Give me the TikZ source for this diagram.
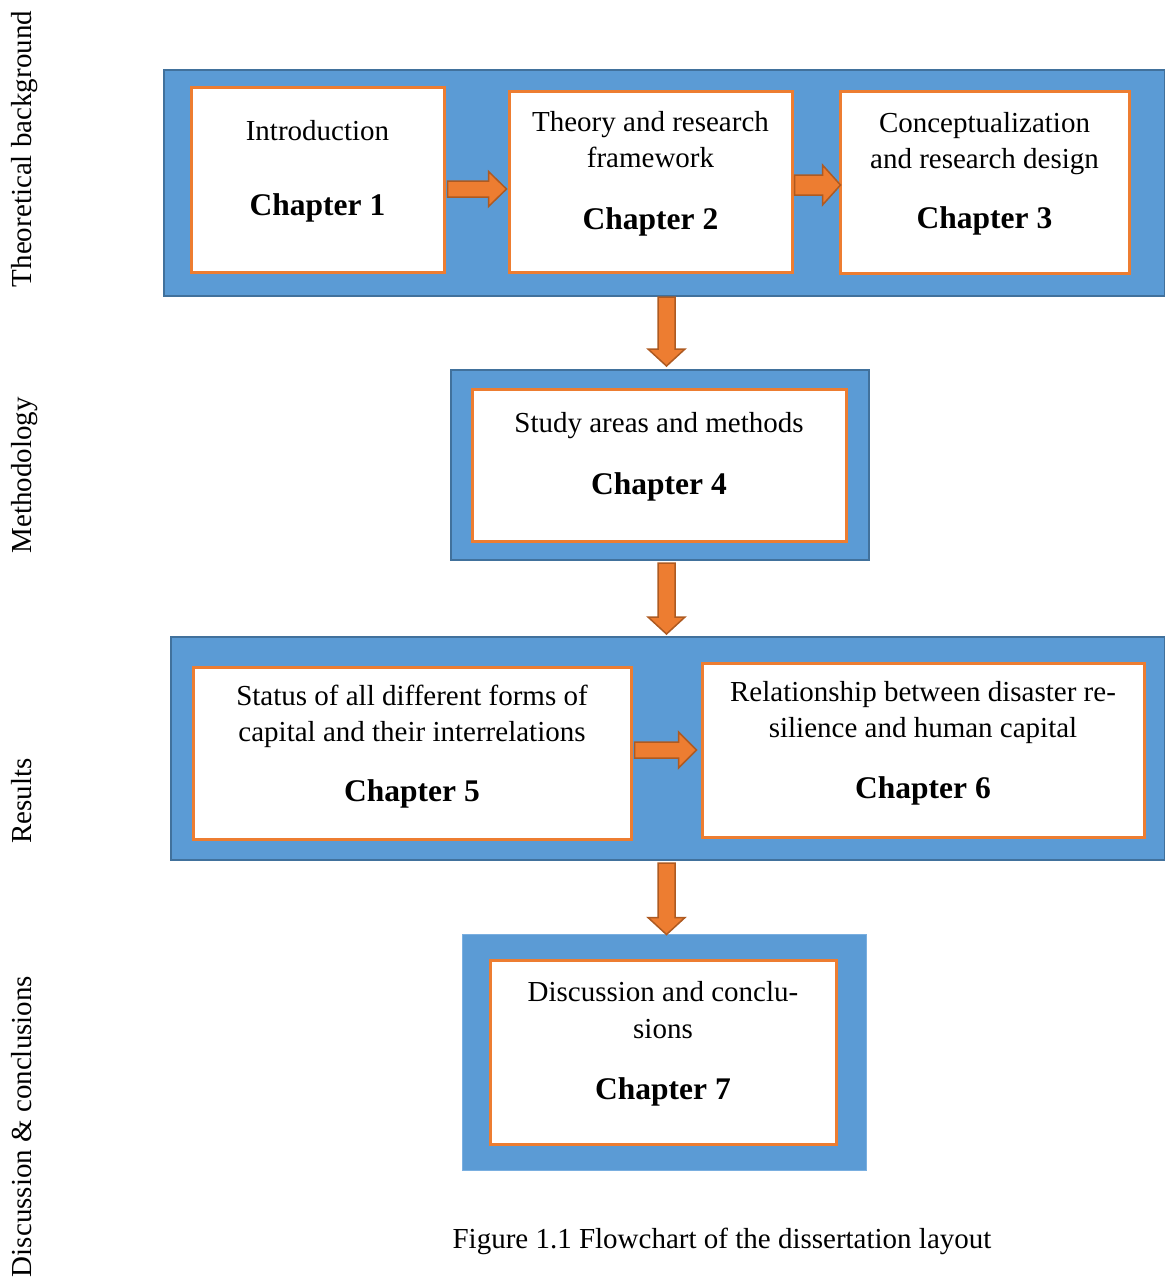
\documentclass[tikz,border=0pt]{standalone}
\usepackage{fontspec}
\setmainfont{Liberation Serif}
\usetikzlibrary{calc}
\definecolor{bluefill}{HTML}{5B9BD5}
\definecolor{blueline}{HTML}{41719C}
\definecolor{bluelight}{HTML}{7AAFE0}
\definecolor{orng}{HTML}{ED7D31}
\definecolor{orngdark}{HTML}{AE5A21}
\newcommand\harr[5]{\draw[barrow] ($(#1)+(0,-#3)$) -- ($(#2)+(-#5,-#3)$) -- ($(#2)+(-#5,-#4)$) -- (#2) -- ($(#2)+(-#5,#4)$) -- ($(#2)+(-#5,#3)$) -- ($(#1)+(0,#3)$) -- cycle;}
\newcommand\varr[5]{\draw[barrow] ($(#1)+(-#3,0)$) -- ($(#2)+(-#3,-#5)$) -- ($(#2)+(-#4,-#5)$) -- (#2) -- ($(#2)+(#4,-#5)$) -- ($(#2)+(#3,-#5)$) -- ($(#1)+(#3,0)$) -- cycle;}
\tikzset{
  bgbox/.style={draw=blueline, fill=bluefill, line width=2pt, inner sep=0pt},
  bgboxl/.style={draw=bluelight, fill=bluefill, line width=1pt, inner sep=0pt},
  chbox/.style={draw=orng, fill=white, line width=3pt, inner sep=0pt},
  barrow/.style={fill=orng, draw=orngdark, line width=1.5pt, line join=miter},
  txt/.style={font=\fontsize{29}{36}\selectfont, anchor=base, inner sep=0pt},
  chap/.style={font=\fontsize{31.5}{36}\selectfont\bfseries, anchor=base, inner sep=0pt},
  side/.style={font=\fontsize{29}{36}\selectfont, anchor=base, inner sep=0pt, rotate=90}
}
\begin{document}
\begin{tikzpicture}[x=1pt, y=-1pt]
\useasboundingbox (0,0) rectangle (1165,1278);
% side labels
\node[side] (s1) at (31,149) {Theoretical background};
\node[side] (s2) at (31,475.5) {Methodology};
\node[side] (s3) at (31,801) {Results};
\node[side] (s4) at (31,1126.5) {Discussion \& conclusions};
% background boxes
\node[bgbox, minimum width=1001pt, minimum height=226pt] (bg1) at (664.5,183) {};
\node[bgbox, minimum width=418pt, minimum height=190pt] (bg2) at (660,465) {};
\node[bgbox, minimum width=994pt, minimum height=223pt] (bg3) at (668,748.5) {};
\node[bgboxl, minimum width=404pt, minimum height=236pt] (bg4) at (664,1052) {};
% chapter boxes
\node[chbox, minimum width=253pt, minimum height=185pt] (ch1) at (317.5,179.5) {};
\node[chbox, minimum width=283pt, minimum height=181pt] (ch2) at (650.5,181.5) {};
\node[chbox, minimum width=289pt, minimum height=182pt] (ch3) at (984.5,182) {};
\node[chbox, minimum width=374pt, minimum height=152pt] (ch4) at (659,465) {};
\node[chbox, minimum width=438pt, minimum height=172pt] (ch5) at (412,753) {};
\node[chbox, minimum width=442pt, minimum height=174pt] (ch6) at (923,750) {};
\node[chbox, minimum width=346pt, minimum height=184pt] (ch7) at (663,1052) {};
% texts
\node[txt] (t1a) at (317.5,140) {Introduction};
\node[chap] (t1b) at (317.5,215) {Chapter 1};
\node[txt] (t2a) at (650.5,131) {Theory and research};
\node[txt] (t2b) at (650.5,167) {framework};
\node[chap] (t2c) at (650.5,229) {Chapter 2};
\node[txt] (t3a) at (984.5,132) {Conceptualization};
\node[txt] (t3b) at (984.5,168) {and research design};
\node[chap] (t3c) at (984.5,228) {Chapter 3};
\node[txt] (t4a) at (659,432) {Study areas and methods};
\node[chap] (t4b) at (659,494) {Chapter 4};
\node[txt] (t5a) at (412,705) {Status of all different forms of};
\node[txt] (t5b) at (412,741) {capital and their interrelations};
\node[chap] (t5c) at (412,801) {Chapter 5};
\node[txt] (t6a) at (923,701) {Relationship between disaster re-};
\node[txt] (t6b) at (923,737) {silience and human capital};
\node[chap] (t6c) at (923,798) {Chapter 6};
\node[txt] (t7a) at (663,1001) {Discussion and conclu-};
\node[txt] (t7b) at (663,1038) {sions};
\node[chap] (t7c) at (663,1099) {Chapter 7};
\node[txt] (cap) at (722,1248) {Figure 1.1 Flowchart of the dissertation layout};
% arrows
\coordinate (a1s) at ($(ch1.east)+(2,9.5)$);
\coordinate (a1e) at ($(ch2.west)+(-1,7.5)$);
\harr{a1s}{a1e}{8}{17.5}{18}
\coordinate (a2s) at ($(ch2.east)+(1,3.5)$);
\coordinate (a2e) at ($(ch3.west)+(2,3)$);
\harr{a2s}{a2e}{10}{20}{18}
\coordinate (a5s) at ($(ch5.east)+(2,-3)$);
\coordinate (a5e) at ($(ch6.west)+(-4,0)$);
\harr{a5s}{a5e}{8}{18}{18}
\coordinate (d1s) at ($(bg1.south)+(2,0)$);
\coordinate (d1e) at ($(bg2.north)+(6.5,-3)$);
\varr{d1s}{d1e}{8.5}{18.5}{17}
\coordinate (d2s) at ($(bg2.south)+(6.5,2)$);
\coordinate (d2e) at ($(bg3.north)+(-1.5,-2)$);
\varr{d2s}{d2e}{8.5}{18.5}{17}
\coordinate (d3s) at ($(bg3.south)+(-1.5,2)$);
\coordinate (d3e) at ($(bg4.north)+(2.5,1)$);
\varr{d3s}{d3e}{8.5}{18.5}{17}
\end{tikzpicture}
\end{document}
